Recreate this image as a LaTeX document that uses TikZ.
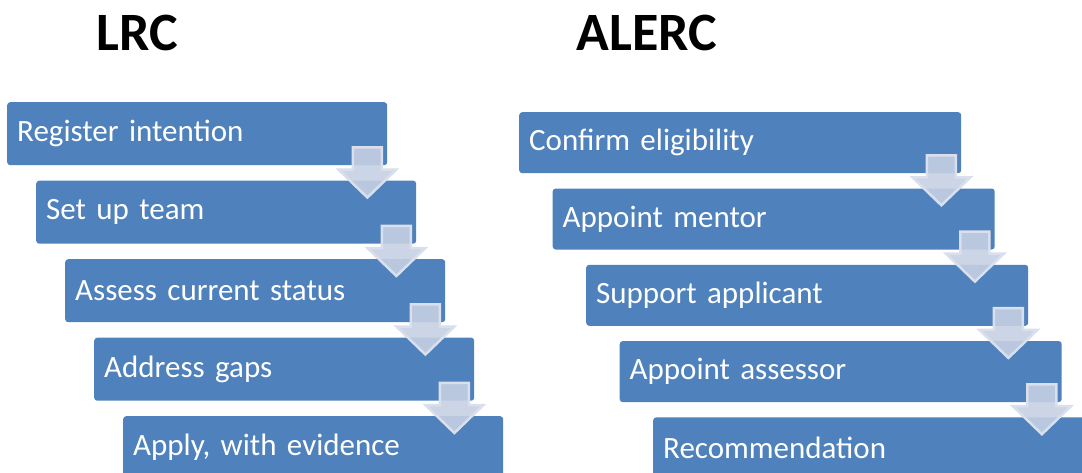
\documentclass[tikz,border=0pt]{standalone}
\usepackage{fontspec}
\setmainfont{Carlito}
\usetikzlibrary{calc}
\definecolor{boxblue}{HTML}{4F81BD}
\definecolor{arrfill}{HTML}{C6D0E3}
\definecolor{arredge}{HTML}{D9DFEC}
\tikzset{
  stepbox/.style={fill=boxblue, draw=none, rounded corners=3pt, anchor=north west,
    text=white, font=\fontsize{31}{36}\selectfont, align=left, inner xsep=10pt, inner ysep=0pt},
  lrcbox/.style={stepbox, minimum width=380pt, text width=360pt, minimum height=63pt},
  alercbox/.style={stepbox, minimum width=442pt, text width=422pt, minimum height=61pt},
  title/.style={font=\fontsize{54}{60}\selectfont\bfseries, anchor=base},
  procarr/.style={fill=arrfill, fill opacity=0.9, draw=arredge, line width=2.5pt, line join=miter}
}
\newcommand\procarrow[2]{%
  \draw[procarr] let \p1=($(#1.south east)+(-20,-18)$), \p2=($(#2.north east)+(0,17)$) in
    ({\x1-14.5pt},\y1) -- ({\x1+14.5pt},\y1) -- ({\x1+14.5pt},{\y2+28pt}) --
    ({\x1+29pt},{\y2+28pt}) -- (\x1,\y2) -- ({\x1-29pt},{\y2+28pt}) --
    ({\x1-14.5pt},{\y2+28pt}) -- cycle;}
\begin{document}
\begin{tikzpicture}[x=1pt,y=-1pt]
\useasboundingbox (0,0) rectangle (1082,472);
\clip (0,0) rectangle (1082,472);
\node[title] (t1) at (137,50) {LRC};
\node[title] (t2) at (647,50) {ALERC};
% LRC
\node[lrcbox] (l1) at (7,102) {Register intention};
\node[lrcbox] (l2) at (36,180.5) {Set up team};
\node[lrcbox] (l3) at (65,259) {Assess current status};
\node[lrcbox] (l4) at (94,337.5) {Address gaps};
\node[lrcbox] (l5) at (123,416) {Apply, with evidence};
% ALERC
\node[alercbox] (a1) at (519,112) {Confirm eligibility};
\node[alercbox] (a2) at (552.5,188.3) {Appoint mentor};
\node[alercbox] (a3) at (586,264.6) {Support applicant};
\node[alercbox] (a4) at (619.5,340.9) {Appoint assessor};
\node[alercbox] (a5) at (653,417.2) {Recommendation};
\procarrow{l1}{l2}
\procarrow{l2}{l3}
\procarrow{l3}{l4}
\procarrow{l4}{l5}
\procarrow{a1}{a2}
\procarrow{a2}{a3}
\procarrow{a3}{a4}
\procarrow{a4}{a5}
\end{tikzpicture}
\end{document}
